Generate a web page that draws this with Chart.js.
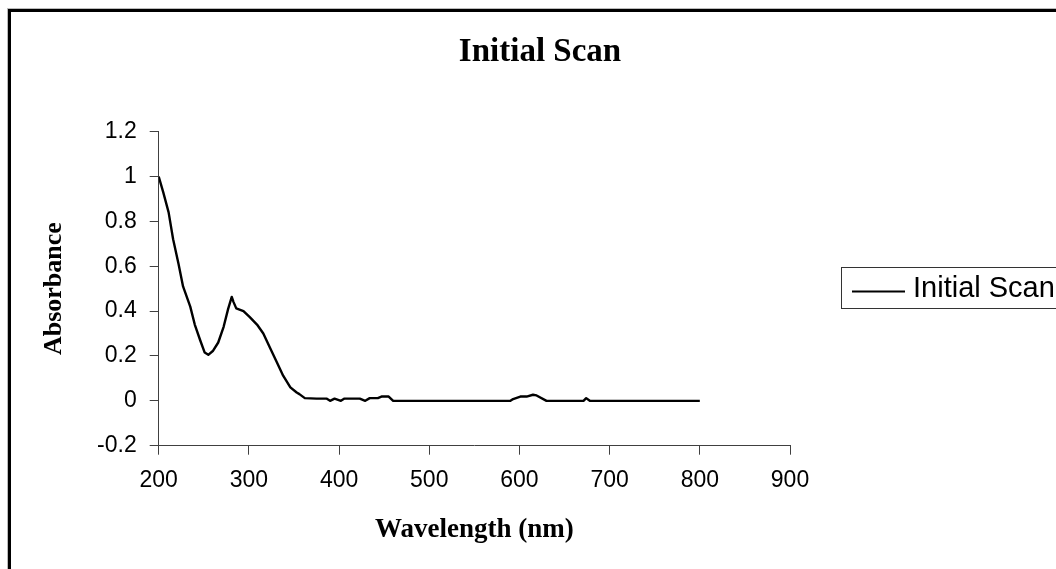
<!DOCTYPE html>
<html><head><meta charset="utf-8">
<script src="https://cdn.jsdelivr.net/npm/chart.js@4/dist/chart.umd.min.js"></script>
<style>html,body{margin:0;padding:0;background:#fff;overflow:hidden}#wrap{position:absolute;left:0;top:0;width:1056px;height:569px}</style>
</head><body><div id="wrap"><canvas id="c" width="1056" height="569"></canvas></div>
<script>
const chartTitle = 'Initial Scan';
const seriesName = 'Initial Scan';
const xAxisTitle = 'Wavelength (nm)';
const yAxisTitle = 'Absorbance';
const wavelengths = [200,205,211,216,222,227,235,240,246,251,255,260,266,272,277,281,283,286,294,301,309,316,323,331,338,346,353,356,362,375,386,390,395,402,406,423,429,434,443,447,455,460,590,593,601,608,615,619,630,671,674,678,800];
const absorbance  = [1.00,0.93,0.84,0.72,0.61,0.51,0.42,0.34,0.27,0.215,0.205,0.222,0.26,0.33,0.41,0.463,0.44,0.412,0.40,0.373,0.34,0.30,0.24,0.172,0.112,0.06,0.037,0.03,0.012,0.01,0.01,0,0.01,0,0.01,0.01,0,0.012,0.012,0.019,0.019,0,0,0.008,0.019,0.019,0.027,0.024,0,0,0.012,0,0];
const xTickValues = [200,300,400,500,600,700,800,900];
const xTickLabels = ['200','300','400','500','600','700','800','900'];
const yTickValues = [-0.2,0,0.2,0.4,0.6,0.8,1,1.2];
const yTickLabels = ['-0.2','0','0.2','0.4','0.6','0.8','1','1.2'];

const points = wavelengths.map((w,i)=>({x:w,y:absorbance[i]}));
const axisColor = '#404040';

const framePlugin = {
  id:'frame',
  beforeDraw(chart){
    const ctx = chart.ctx;
    ctx.save();
    ctx.fillStyle='#fff'; ctx.fillRect(0,0,chart.width,chart.height);
    ctx.strokeStyle='#bbb'; ctx.lineWidth=1;
    ctx.strokeRect(7.5,8.5,1300,800);
    ctx.strokeStyle='#000'; ctx.lineWidth=3;
    ctx.strokeRect(9.5,10.5,1300,800);
    ctx.restore();
  }
};
const legendPlugin = {
  id:'boxLegend',
  afterDraw(chart){
    const ctx = chart.ctx;
    const ds = chart.data.datasets[0];
    ctx.save();
    ctx.strokeStyle='#333'; ctx.lineWidth=1;
    ctx.strokeRect(841.5,267.5,400,41);
    ctx.strokeStyle=ds.borderColor; ctx.lineWidth=2;
    ctx.beginPath(); ctx.moveTo(852,291.5); ctx.lineTo(905,291.5); ctx.stroke();
    ctx.fillStyle='#000'; ctx.font='29px "Liberation Sans", Arial, sans-serif';
    ctx.textBaseline='alphabetic'; ctx.textAlign='left';
    ctx.fillText(ds.label,913,297);
    ctx.restore();
  }
};

new Chart(document.getElementById('c'),{
  type:'line',
  data:{datasets:[{label:seriesName,data:points,borderColor:'#000',borderWidth:2.4,pointRadius:0,tension:0,fill:false,borderJoinStyle:'round'}]},
  options:{
    responsive:false,animation:false,
    layout:{padding:{left:24,top:10,right:0,bottom:0}},
    plugins:{
      legend:{display:false},tooltip:{enabled:false},
      title:{display:true,text:chartTitle,color:'#000',font:{family:'"Liberation Serif", "Times New Roman", serif',size:33,weight:'bold'},padding:{top:23,bottom:59}}
    },
    scales:{
      x:{type:'linear',min:200,max:900,
        afterBuildTicks:s=>{s.ticks=xTickValues.map(v=>({value:v}));},
        afterFit:s=>{s.height=569-445.7;},
        ticks:{callback:(v,i)=>xTickLabels[i],color:'#000',padding:12,maxRotation:0,font:{family:'"Liberation Sans", Arial, sans-serif',size:23}},
        grid:{drawOnChartArea:false,drawTicks:true,tickLength:9,color:axisColor,lineWidth:1},
        border:{display:true,color:axisColor,width:1},
        title:{display:true,text:xAxisTitle,color:'#000',font:{family:'"Liberation Serif", "Times New Roman", serif',size:27,weight:'bold'},padding:{top:0,bottom:23}}
      },
      y:{type:'linear',min:-0.2,max:1.2,
        afterBuildTicks:s=>{s.ticks=yTickValues.map(v=>({value:v}));},
        afterFit:s=>{s.width=158.7-24;},
        ticks:{callback:(v,i)=>yTickLabels[i],color:'#000',padding:13,font:{family:'"Liberation Sans", Arial, sans-serif',size:23}},
        grid:{drawOnChartArea:false,drawTicks:true,tickLength:9,color:axisColor,lineWidth:1},
        border:{display:true,color:axisColor,width:1},
        title:{display:true,text:yAxisTitle,color:'#000',font:{family:'"Liberation Serif", "Times New Roman", serif',size:26,weight:'bold'},padding:{top:15,bottom:0}}
      },
      yR:{type:'linear',position:'right',display:true,
        afterFit:s=>{s.width=1056-790;},
        ticks:{display:false},grid:{display:false},border:{display:false}
      }
    }
  },
  plugins:[framePlugin,legendPlugin]
});
</script></body></html>
